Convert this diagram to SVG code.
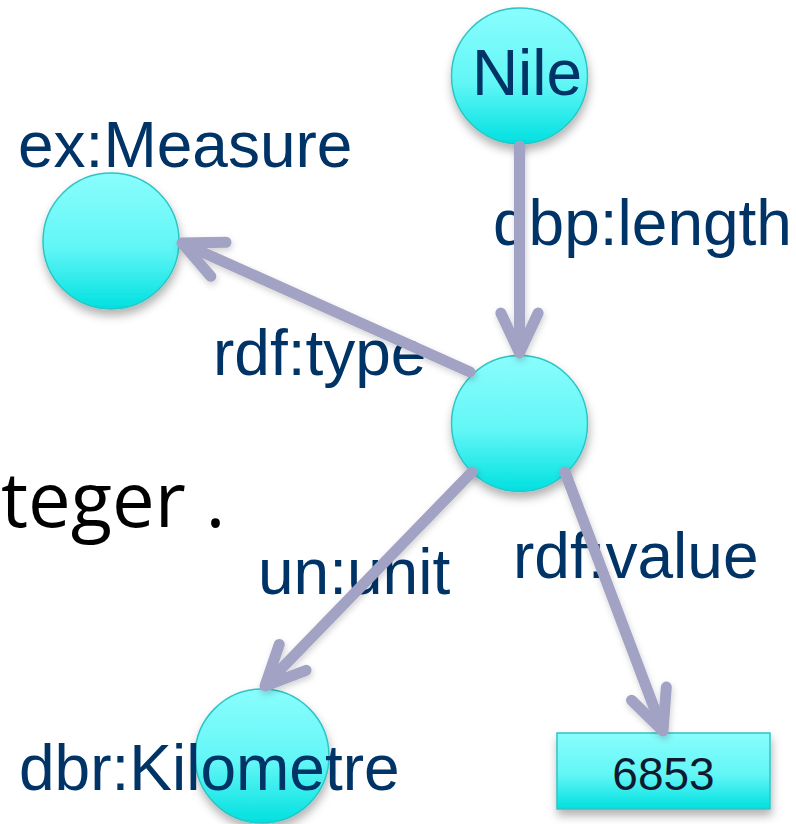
<svg xmlns="http://www.w3.org/2000/svg" width="796" height="824" viewBox="0 0 796 824">
<defs>
<linearGradient id="cyan" x1="0" y1="0" x2="0" y2="1">
<stop offset="0" stop-color="#8afdfd"/>
<stop offset="0.55" stop-color="#62f6f6"/>
<stop offset="1" stop-color="#00e0e0"/>
</linearGradient>
<filter id="sh" x="-30%" y="-30%" width="160%" height="170%">
<feDropShadow dx="1" dy="6" stdDeviation="5" flood-color="#000" flood-opacity="0.3"/>
</filter>
<filter id="lsh" x="-20%" y="-20%" width="140%" height="140%">
<feDropShadow dx="1" dy="3" stdDeviation="3" flood-color="#000" flood-opacity="0.18"/>
</filter>
</defs>
<style>
.node{fill:url(#cyan);stroke:#2fc4c4;stroke-width:1.5;filter:url(#sh)}
.lbl{font-family:"Liberation Sans",Arial,sans-serif;font-size:64px;fill:#003366}
.num{font-family:"Liberation Sans",Arial,sans-serif;font-size:46px;fill:#0e1a30}
.code{font-family:"Open Sans","Noto Sans",sans-serif;font-size:76px;fill:#000000}
.edge{fill:none;stroke:#a2a2c4;stroke-width:11;stroke-linecap:round;stroke-linejoin:round}
</style>
<rect width="796" height="824" fill="#ffffff"/>
<g id="node-nile"><circle class="node" cx="519.5" cy="76" r="68"/><text class="lbl" x="527" y="95" text-anchor="middle">Nile</text></g>
<g id="node-measure"><circle class="node" cx="111" cy="241" r="68"/><text class="lbl" x="18" y="167">ex:Measure</text></g>
<g id="node-blank"><circle class="node" cx="519.5" cy="423.5" r="68"/></g>
<g id="node-km"><circle class="node" cx="262" cy="756" r="67"/><text class="lbl" x="19" y="790">dbr:Kilometre</text></g>
<g id="node-6853"><rect class="node" x="557" y="733" width="213" height="76"/><text class="num" x="663.5" y="790" text-anchor="middle">6853</text></g>
<g id="labels">
<text class="lbl" x="493" y="245">dbp:length</text>
<text class="lbl" x="213" y="375">rdf:type</text>
<text class="lbl" x="258" y="594">un:unit</text>
<text class="lbl" x="513" y="578">rdf:value</text>
<text class="code" x="1" y="527">teger .</text>
</g>
<g id="connectors" filter="url(#lsh)">
<path class="edge" d="M519.5 146 L519.5 352"/>
<path class="edge" d="M500.9 313.1 L519.5 353 L538.1 313.1"/>
<path class="edge" d="M470 372 L183 243.5"/>
<path class="edge" d="M226 242.3 L182 243 L210.8 276.3"/>
<path class="edge" d="M472 472 L265.5 685"/>
<path class="edge" d="M306.1 670.3 L265 686 L279.3 644.4"/>
<path class="edge" d="M565 472 L662.5 730"/>
<path class="edge" d="M666.3 687.1 L663 731 L631.5 700.3"/>
</g>
</svg>
